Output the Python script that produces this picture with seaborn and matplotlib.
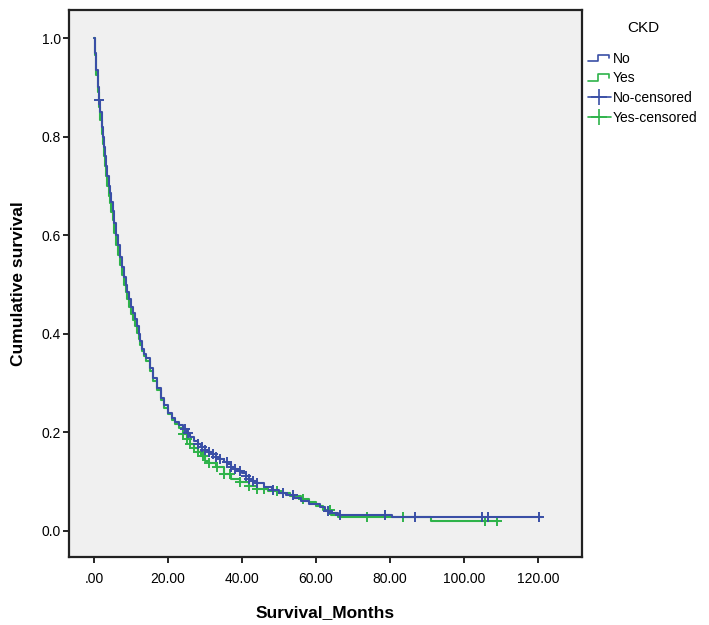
import matplotlib
matplotlib.use('Agg')
import matplotlib.pyplot as plt
from matplotlib.lines import Line2D
from matplotlib.legend_handler import HandlerLine2D
import numpy as np
import pandas as pd
import seaborn as sns

# Kaplan-Meier steps (time in months, cumulative survival)
no_times = [0, 0.3, 0.6, 1, 1.3, 1.6, 2, 2.3, 2.6, 3, 3.3, 3.6, 4, 4.3, 4.6, 5, 5.5, 6, 6.5, 7,
            7.5, 8, 8.5, 9, 9.5, 10, 10.5, 11, 11.5, 12, 12.5, 13, 13.5, 14, 15, 16, 17, 18, 19,
            20, 21, 22, 23, 24, 25, 26, 27, 28, 29, 30, 31, 32, 33, 34, 35, 36, 37, 38, 39, 40,
            41, 42, 43, 44, 46, 48, 50, 52, 54, 56, 58, 61, 62.5, 63.5, 66, 80.5, 121]
no_surv = [1.0, 0.97, 0.935, 0.90, 0.875, 0.85, 0.82, 0.80, 0.78, 0.76, 0.74, 0.72, 0.70, 0.685,
           0.668, 0.65, 0.625, 0.60, 0.58, 0.555, 0.535, 0.515, 0.50, 0.485, 0.47, 0.455, 0.442,
           0.43, 0.415, 0.40, 0.385, 0.37, 0.36, 0.35, 0.33, 0.31, 0.29, 0.27, 0.255, 0.24, 0.23,
           0.222, 0.215, 0.207, 0.198, 0.19, 0.182, 0.176, 0.171, 0.165, 0.16, 0.156, 0.15,
           0.145, 0.14, 0.135, 0.13, 0.126, 0.122, 0.117, 0.112, 0.106, 0.101, 0.097, 0.09,
           0.082, 0.077, 0.072, 0.066, 0.060, 0.055, 0.049, 0.040, 0.036, 0.032, 0.029, 0.029]
no_censored = [1.4, 24.6, 25.5, 28, 29.2, 30, 31, 32.2, 33, 34, 35.9, 37, 38, 39.5, 41, 42, 43,
               44, 48.4, 51, 53.8, 63.2, 66.5, 78.6, 86.8, 104.9, 106.5, 120.3]

yes_times = [0, 0.3, 0.6, 1, 1.3, 1.6, 2, 2.3, 2.6, 3, 3.3, 3.6, 4, 4.3, 4.6, 5, 5.5, 6, 6.5, 7,
             7.5, 8, 8.5, 9, 9.5, 10, 10.5, 11, 11.5, 12, 12.5, 13, 13.5, 14, 15, 16, 17, 18, 19,
             20, 21, 22, 23, 24, 25, 26, 27, 28, 29, 30, 31, 33, 35, 37, 39.5, 42, 44, 47, 50, 53,
             56, 58, 60, 62, 64, 66, 91, 108.9]
yes_surv = [1.0, 0.965, 0.925, 0.89, 0.86, 0.835, 0.805, 0.785, 0.76, 0.74, 0.72, 0.70, 0.68,
            0.665, 0.648, 0.63, 0.605, 0.58, 0.56, 0.54, 0.52, 0.50, 0.485, 0.47, 0.455, 0.44,
            0.428, 0.415, 0.402, 0.39, 0.378, 0.365, 0.355, 0.345, 0.325, 0.305, 0.285, 0.265,
            0.25, 0.237, 0.226, 0.217, 0.208, 0.197, 0.186, 0.177, 0.168, 0.16, 0.152, 0.142,
            0.137, 0.13, 0.115, 0.106, 0.1, 0.092, 0.085, 0.08, 0.076, 0.071, 0.064, 0.058, 0.05,
            0.042, 0.032, 0.028, 0.021, 0.021]
yes_censored = [24.1, 25, 26, 27, 28, 29.5, 31, 33.2, 35, 36.8, 39.5, 42, 44, 46, 49.5, 56.5,
                63.8, 73.7, 83.5, 105.7, 108.9]

x_ticks = [0, 20, 40, 60, 80, 100, 120]
x_tick_labels = ['.00', '20.00', '40.00', '60.00', '80.00', '100.00', '120.00']
y_ticks = [0.0, 0.2, 0.4, 0.6, 0.8, 1.0]

blue = '#3A4FA6'
green = '#2EB34A'

sns.set_style('white')
plt.rcParams['font.family'] = ['Liberation Sans', 'DejaVu Sans']
plt.rcParams['text.color'] = 'black'
plt.rcParams['axes.labelcolor'] = 'black'
plt.rcParams['xtick.color'] = 'black'
plt.rcParams['ytick.color'] = 'black'


def surv_at(times, surv, t):
    # value of the step function at time t
    idx = np.searchsorted(times, t, side='right') - 1
    return np.array(surv)[idx]


curves = pd.concat([
    pd.DataFrame({'time': no_times, 'surv': no_surv, 'CKD': 'No'}),
    pd.DataFrame({'time': yes_times, 'surv': yes_surv, 'CKD': 'Yes'}),
])
cens = pd.concat([
    pd.DataFrame({'time': no_censored, 'surv': surv_at(no_times, no_surv, no_censored), 'CKD': 'No'}),
    pd.DataFrame({'time': yes_censored, 'surv': surv_at(yes_times, yes_surv, yes_censored), 'CKD': 'Yes'}),
])

fig = plt.figure(figsize=(7.09, 6.25), dpi=100)
ax = fig.add_axes([0.0973, 0.1088, 0.7235, 0.875])
ax.set_facecolor('#F0F0F0')

palette = {'No': blue, 'Yes': green}
for grp in ['Yes', 'No']:
    d = curves[curves['CKD'] == grp]
    sns.lineplot(x=d['time'], y=d['surv'], color=palette[grp], drawstyle='steps-post',
                 estimator=None, sort=False, linewidth=1.5, ax=ax)
    c = cens[cens['CKD'] == grp]
    ax.plot(c['time'], c['surv'], linestyle='none', marker='+', markersize=7,
            markeredgewidth=1.4, color=palette[grp])

ax.set_xlim(-6.8, 131.9)
ax.set_ylim(-0.053, 1.057)
ax.set_xticks(x_ticks)
ax.set_xticklabels(x_tick_labels)
ax.set_yticks(y_ticks)
ax.set_yticklabels(['%.1f' % v for v in y_ticks])
ax.tick_params(axis='both', which='both', direction='out', length=4, width=1.2,
               labelsize=10, color='black', labelcolor='black',
               bottom=True, left=True, top=False, right=False)
ax.tick_params(axis='x', pad=7)
ax.tick_params(axis='y', pad=2)
for s in ax.spines.values():
    s.set_color('#222222')
    s.set_linewidth(1.6)

ax.set_xlabel('Survival_Months', fontsize=12.5, fontweight='bold', color='black')
ax.set_ylabel('Cumulative survival', fontsize=12.5, fontweight='bold', color='black')
ax.xaxis.set_label_coords(0.5, -0.088)
ax.yaxis.set_label_coords(-0.083, 0.5)


class StepHandler(HandlerLine2D):
    def create_artists(self, legend, orig_handle, xdescent, ydescent, width, height, fontsize, trans):
        x0 = -xdescent
        xs = [x0, x0 + 0.45 * width, x0 + 0.45 * width, x0 + 0.95 * width, x0 + 0.95 * width]
        ys = [-ydescent + 0.15 * height, -ydescent + 0.15 * height, -ydescent + 0.85 * height,
              -ydescent + 0.85 * height, -ydescent + 0.45 * height]
        ln = Line2D(xs, ys, color=orig_handle.get_color(), linewidth=1.2, transform=trans)
        return [ln]


h_no = Line2D([], [], color=blue)
h_yes = Line2D([], [], color=green)
h_no_c = Line2D([], [], color=blue, marker='+', markersize=11, markeredgewidth=1.2, linewidth=1.2)
h_yes_c = Line2D([], [], color=green, marker='+', markersize=11, markeredgewidth=1.2, linewidth=1.2)
leg = fig.legend([h_no, h_yes, h_no_c, h_yes_c], ['No', 'Yes', 'No-censored', 'Yes-censored'],
                 title='CKD', loc='upper left', bbox_to_anchor=(0.822, 0.975), frameon=False,
                 fontsize=10, title_fontsize=11, handlelength=1.6, handletextpad=0.15,
                 labelspacing=0.4, borderaxespad=0,
                 handler_map={h_no: StepHandler(), h_yes: StepHandler()})
leg._legend_box.sep = 12
for t in leg.get_texts():
    t.set_color('black')
leg.get_title().set_color('black')

fig.savefig('out.png', dpi=100)
